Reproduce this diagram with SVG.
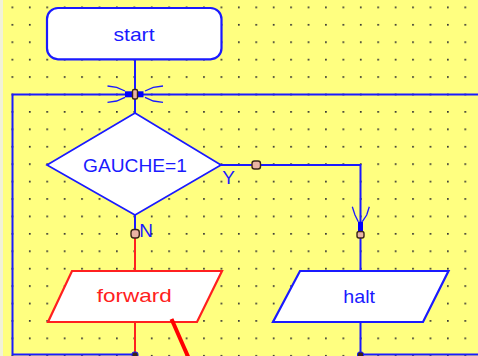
<svg xmlns="http://www.w3.org/2000/svg" width="478" height="356" viewBox="0 0 478 356">
  <style>
    .bg { fill: #ffff80; }
    .node-blue { fill: #ffffff; stroke: #1a1aff; stroke-width: 2.2; }
    .node-red { fill: #ffffff; stroke: #ff2020; stroke-width: 2.2; }
    .lbl { font-family: "Liberation Sans", Arial, sans-serif; font-size: 19px; text-anchor: middle; }
    .lbl-blue { fill: #1a1aff; }
    .lbl-red { fill: #ff2020; }
    .wire { fill: none; stroke: #1a1aff; stroke-width: 2; }
    .wire-red { fill: none; stroke: #ff2020; stroke-width: 2; }
    .feeler { fill: none; stroke: #1a1aff; stroke-width: 1.3; }
    .pin { fill: #eab4a4; stroke: #3a2418; stroke-width: 1.4; }
    .pin-dark { fill: #3a2418; stroke: #1a1aff; stroke-width: 1; }
    .block { fill: #0000ff; }
  </style>
  <defs>
    <pattern id="grid" patternUnits="userSpaceOnUse" x="11.5" y="6.5" width="17.42" height="17.42">
      <rect x="0" y="0" width="1.7" height="1.7" fill="#333"/>
    </pattern>
  </defs>

  <!-- canvas with dot grid -->
  <rect class="bg" x="0" y="0" width="478" height="356"/>
  <rect x="0" y="0" width="478" height="356" fill="url(#grid)"/>
  <rect x="0" y="0" width="3" height="356" fill="#f2f2d8"/>

  <!-- connectors -->
  <g id="connectors">
    <!-- loop frame -->
    <path class="wire" d="M478,94.5 H12.5 V354.5 H135"/>
    <path class="wire" d="M360.5,354.5 H478"/>
    <!-- start to loop junction to decision -->
    <path class="wire" d="M135,59 V113"/>
    <!-- Y branch -->
    <path class="wire" d="M221,165 H360.5 V271"/>
    <!-- N branch -->
    <path class="wire" d="M135,215 V233"/>
    <path class="wire-red" d="M135,233 V271"/>
    <path class="wire-red" d="M135,322 V354"/>
    <!-- halt down -->
    <path class="wire" d="M360.5,322 V354"/>

    <!-- loop junction: feelers, blocks and pin -->
    <path class="feeler" d="M107.5,86 L116.7,87.3 L125,91"/>
    <path class="feeler" d="M107.5,102.3 L116.7,101 L125,97.3"/>
    <path class="feeler" d="M163,86 L153.3,87.3 L145,91"/>
    <path class="feeler" d="M163,102.3 L153.3,101 L145,97.3"/>
    <rect class="block" x="125" y="91.3" width="18.5" height="6"/>
    <rect class="pin" x="132.5" y="89.5" width="5" height="9.5" rx="1.5"/>

    <!-- merge feelers on the Y branch -->
    <path class="feeler" d="M352.3,206.7 L355,215 L358.3,221.7"/>
    <path class="feeler" d="M369.3,206.7 L366.7,215 L362.3,221.7"/>
    <rect class="block" x="358" y="221.7" width="5" height="10.5"/>
    <rect class="pin" x="357" y="231.5" width="7" height="6.5" rx="2"/>

    <!-- pins -->
    <rect class="pin" x="252" y="161" width="8.5" height="8" rx="2.5"/>
    <rect class="pin" x="131" y="229.5" width="8.3" height="8.5" rx="3"/>
    <rect class="pin-dark" x="132" y="352" width="6" height="6" rx="2"/>
    <rect class="pin-dark" x="357.5" y="352" width="6" height="6" rx="2"/>

    <!-- branch labels -->
    <text class="lbl lbl-blue" x="228.5" y="184">Y</text>
    <text class="lbl lbl-blue" x="146.2" y="236.7">N</text>
  </g>

  <g id="start">
    <rect class="node-blue" x="47" y="8" width="174.5" height="51.3" rx="11"/>
    <text class="lbl lbl-blue" x="134" y="40.7" textLength="41" lengthAdjust="spacingAndGlyphs">start</text>
  </g>

  <g id="decision">
    <polygon class="node-blue" style="stroke-width:1.7" points="135,113 221,165 135,215 47,165"/>
    <text class="lbl lbl-blue" x="135" y="171.7" textLength="104" lengthAdjust="spacingAndGlyphs">GAUCHE=1</text>
  </g>

  <g id="forward">
    <polygon class="node-red" points="72,271 222,271 197,322 48,322"/>
    <text class="lbl lbl-red" x="134.2" y="301.7" textLength="75" lengthAdjust="spacingAndGlyphs">forward</text>
  </g>

  <g id="halt">
    <polygon class="node-blue" points="300,271 448.5,271 423,322 273,322"/>
    <text class="lbl lbl-blue" x="359.2" y="302.7" textLength="31.7" lengthAdjust="spacingAndGlyphs">halt</text>
  </g>

  <!-- pointer stroke drawn on top of the node outline -->
  <line x1="171.5" y1="319" x2="189.5" y2="360" stroke="#ff0000" stroke-width="4"/>
</svg>
